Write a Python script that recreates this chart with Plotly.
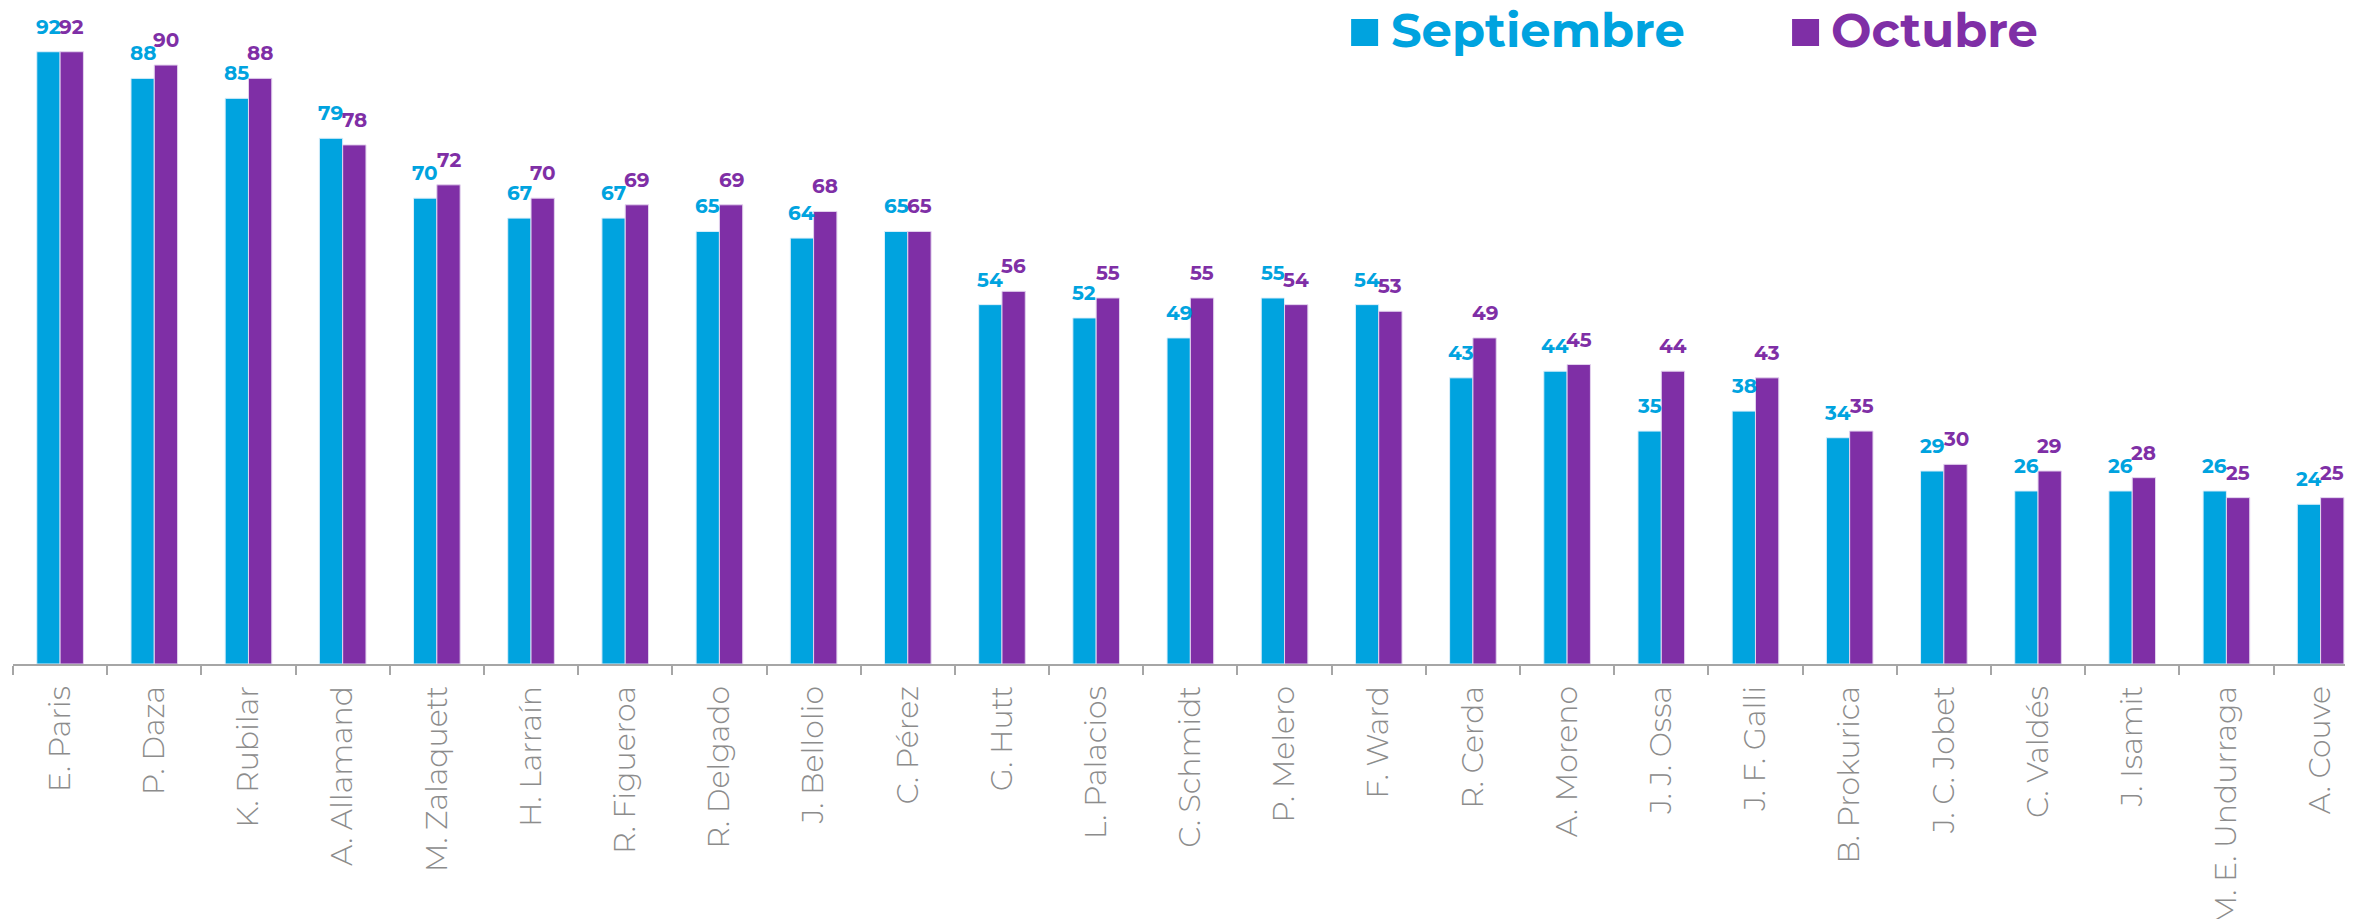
import plotly.graph_objects as go

names = ["E. Paris", "P. Daza", "K. Rubilar", "A. Allamand", "M. Zalaquett", "H. Larraín",
         "R. Figueroa", "R. Delgado", "J. Bellolio", "C. Pérez", "G. Hutt", "L. Palacios",
         "C. Schmidt", "P. Melero", "F. Ward", "R. Cerda", "A. Moreno", "J. J. Ossa",
         "J. F. Galli", "B. Prokurica", "J. C. Jobet", "C. Valdés", "J. Isamit",
         "M. E. Undurraga", "A. Couve"]
septiembre = [92, 88, 85, 79, 70, 67, 67, 65, 64, 65, 54, 52, 49, 55, 54, 43, 44, 35, 38, 34, 29, 26, 26, 26, 24]
octubre = [92, 90, 88, 78, 72, 70, 69, 69, 68, 65, 56, 55, 55, 54, 53, 49, 45, 44, 43, 35, 30, 29, 28, 25, 25]

C_SEP = "#00A3DF"
C_OCT = "#7F2FA6"
# page has an 8px body margin; figure sized so that it fills the window
W, H = 2345, 911
ML, MB = 4.7, 255
PW = W - ML
PH = H - MB
LABEL_FONT = "Montserrat, DejaVu Sans, sans-serif"

fig = go.Figure()
fig.add_trace(go.Bar(x=names, y=septiembre, name="Septiembre",
                     marker=dict(color=C_SEP, line=dict(color="#DDEFFA", width=1))))
fig.add_trace(go.Bar(x=names, y=octubre, name="Octubre",
                     marker=dict(color=C_OCT, line=dict(color="#E3D3EE", width=1))))

annotations = []
half = 11.7
for n, s, o in zip(names, septiembre, octubre):
    annotations.append(dict(x=n, y=s, xref="x", yref="y", text=str(s), showarrow=False,
                            xshift=-half, yshift=11, yanchor="bottom",
                            font=dict(family=LABEL_FONT, size=20, color=C_SEP, weight="bold")))
    annotations.append(dict(x=n, y=o, xref="x", yref="y", text=str(o), showarrow=False,
                            xshift=half, yshift=11, yanchor="bottom",
                            font=dict(family=LABEL_FONT, size=20, color=C_OCT, weight="bold")))

def px_x(px):
    return (px - 8 - ML) / PW

def px_y(py):
    return 1 - (py - 8) / PH

shapes = []
legend_items = [("Septiembre", C_SEP, 1351, 1389), ("Octubre", C_OCT, 1792, 1829)]
for label, col, sq_x, tx_x in legend_items:
    shapes.append(dict(type="rect", xref="paper", yref="paper",
                       x0=px_x(sq_x), x1=px_x(sq_x + 27), y0=px_y(46), y1=px_y(19),
                       fillcolor=col, line=dict(width=0)))
    annotations.append(dict(
        x=px_x(tx_x), y=1.0, xref="paper", yref="paper", xanchor="left", yanchor="top",
        yshift=9, showarrow=False, text=label,
        font=dict(family=LABEL_FONT, size=48, color=col, weight="bold")))

fig.update_layout(
    width=W, height=H,
    margin=dict(l=ML, r=0, t=0, b=MB, pad=0),
    barmode="group", bargap=0.505, bargroupgap=0,
    plot_bgcolor="white", paper_bgcolor="white",
    showlegend=False,
    annotations=annotations,
    shapes=shapes,
    xaxis=dict(range=[-0.5, -0.5 + PW / 94.2], showline=True, linecolor="#A6A6A6", linewidth=2,
               ticks="outside", tickson="boundaries", ticklen=9, tickcolor="#A6A6A6", tickwidth=2,
               tickangle=-90, ticklabelstandoff=8, automargin=False,
               tickfont=dict(family="Montserrat, Lato, sans-serif", size=30, color="#8C8C8C", weight=300),
               showgrid=False),
    yaxis=dict(range=[0, PH / 6.655], visible=False, showgrid=False, zeroline=False),
)

fig.write_html("out.html")
